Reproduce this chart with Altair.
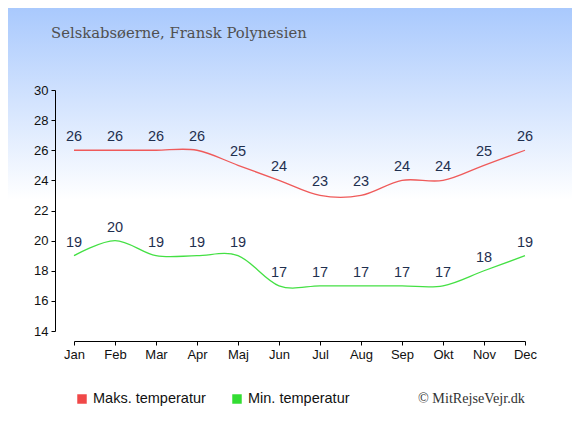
import altair as alt
import pandas as pd

months = ["Jan", "Feb", "Mar", "Apr", "Maj", "Jun", "Jul", "Aug", "Sep", "Okt", "Nov", "Dec"]
max_temp = [26, 26, 26, 26, 25, 24, 23, 23, 24, 24, 25, 26]
min_temp = [19, 20, 19, 19, 19, 17, 17, 17, 17, 17, 18, 19]
series_names = ["Maks. temperatur", "Min. temperatur"]
line_colors = ["#ef5a5a", "#44e044"]
legend_colors = ["#f04848", "#33dd33"]
y_ticks = [14, 16, 18, 20, 22, 24, 26, 28, 30]
title_text = "Selskabsøerne, Fransk Polynesien"
credit_text = "© MitRejseVejr.dk"

df = pd.DataFrame({
    "month": months * 2,
    "value": max_temp + min_temp,
    "series": [series_names[0]] * 12 + [series_names[1]] * 12,
})

W, H = 451, 241
PAD = {"left": 66, "top": 82, "right": 47, "bottom": 96}
TOTAL_W = W + PAD["left"] + PAD["right"]

one = pd.DataFrame({"a": [0]})

bg = alt.Chart(one).mark_rect(
    color=alt.LinearGradient(
        gradient="linear",
        stops=[alt.GradientStop(color="#a9c9fd", offset=0),
               alt.GradientStop(color="#ffffff", offset=1)],
        x1=0, x2=0, y1=0, y2=1,
    )
).encode(
    x=alt.value(-PAD["left"]), x2=alt.value(TOTAL_W - PAD["left"]),
    y=alt.value(-PAD["top"]), y2=alt.value(192 - PAD["top"]),
)

x_enc = alt.X("month:O", sort=months,
              scale=alt.Scale(type="point", padding=0),
              axis=alt.Axis(title=None, labelAngle=0, offset=10, tickSize=4,
                            labelPadding=3, domainColor="#000", tickColor="#000",
                            labelColor="#111", labelFontSize=13, zindex=1,
                            labelFont="Liberation Sans", grid=False))
y_enc = alt.Y("value:Q", scale=alt.Scale(domain=[14, 30], nice=False, zero=False),
              axis=alt.Axis(title=None, values=y_ticks, offset=19, tickSize=4,
                            labelPadding=3, domainColor="#000", tickColor="#000",
                            labelColor="#111", labelFontSize=13, zindex=1,
                            labelOverlap=False, labelFlush=False,
                            labelFont="Liberation Sans", grid=False))

lines = alt.Chart(df).mark_line(interpolate="cardinal", strokeWidth=1.3).encode(
    x=x_enc, y=y_enc,
    color=alt.Color("series:N", scale=alt.Scale(domain=series_names, range=line_colors),
                    legend=None),
    detail="series:N",
)

labels = alt.Chart(df).mark_text(
    dy=-9, baseline="alphabetic", align="center",
    font="Liberation Sans", fontSize=14.5, color="#1f2f4f",
).encode(
    x=x_enc, y=y_enc, text="value:Q",
)

title = alt.Chart(one).mark_text(
    align="left", baseline="alphabetic", font="DejaVu Serif", fontSize=14.8,
    color="#505050", text=title_text,
).encode(x=alt.value(-23), y=alt.value(-52))

credit = alt.Chart(one).mark_text(
    align="left", baseline="alphabetic", font="Liberation Serif", fontSize=14.2,
    color="#333333", text=credit_text,
).encode(x=alt.value(344), y=alt.value(313))

leg_sq1 = alt.Chart(one).mark_square(size=90, color=legend_colors[0], opacity=1).encode(
    x=alt.value(8), y=alt.value(309))
leg_tx1 = alt.Chart(one).mark_text(
    align="left", baseline="alphabetic", font="Liberation Sans", fontSize=14.5,
    color="#111111", text=series_names[0]).encode(x=alt.value(19), y=alt.value(313))
leg_sq2 = alt.Chart(one).mark_square(size=90, color=legend_colors[1], opacity=1).encode(
    x=alt.value(163), y=alt.value(309))
leg_tx2 = alt.Chart(one).mark_text(
    align="left", baseline="alphabetic", font="Liberation Sans", fontSize=14.5,
    color="#111111", text=series_names[1]).encode(x=alt.value(174), y=alt.value(313))

chart = alt.layer(
    bg, lines, labels, title, credit, leg_sq1, leg_tx1, leg_sq2, leg_tx2
).properties(
    width=W, height=H,
    autosize=alt.AutoSizeParams(type="none"),
    padding=PAD,
).configure(background="#ffffff").configure_view(strokeWidth=0, stroke="transparent")

chart.save("out.html", embed_options={"renderer": "svg", "actions": False})
